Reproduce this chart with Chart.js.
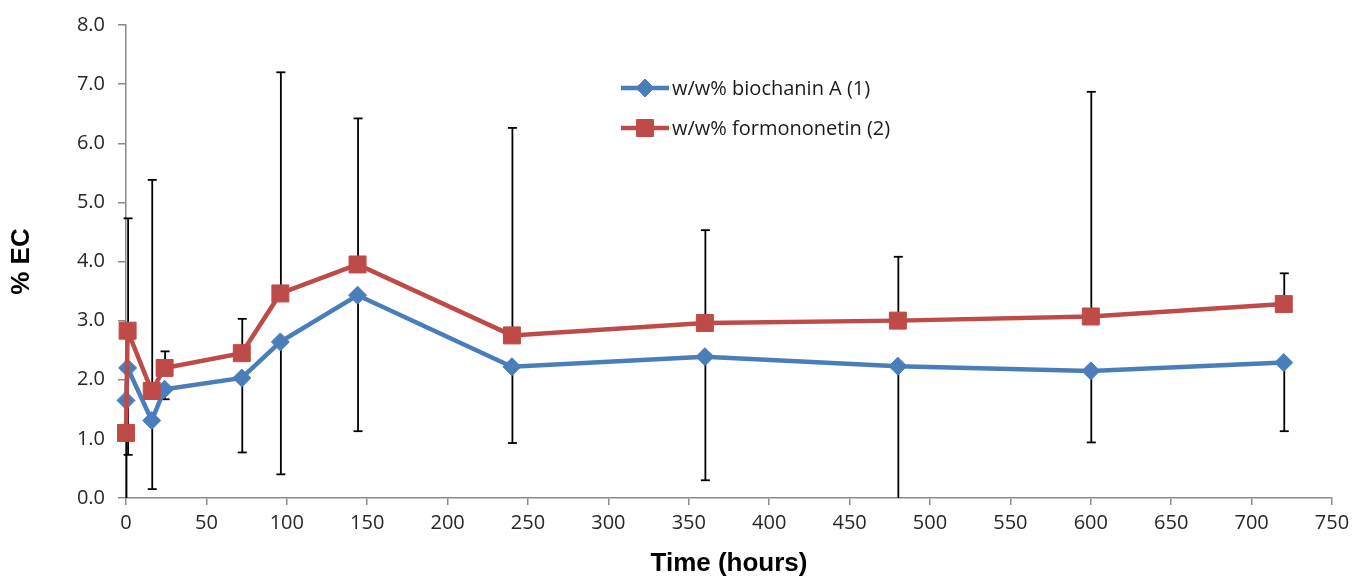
<!DOCTYPE html>
<html><head><meta charset="utf-8">
<script src="https://cdn.jsdelivr.net/npm/chart.js@4/dist/chart.umd.min.js"></script>
<style>html,body{margin:0;padding:0;background:#fff;}#wrap{width:1360px;height:582px;}</style>
</head><body><div id="wrap"><canvas id="c" width="1360" height="582"></canvas></div>
<script>
// ---- data ----
const timeHours = [0, 1, 16, 24, 72, 96, 144, 240, 360, 480, 600, 720];
const biochaninA = [1.65, 2.20, 1.31, 1.84, 2.03, 2.64, 3.43, 2.22, 2.39, 2.23, 2.15, 2.29];
const formononetin = [1.10, 2.83, 1.81, 2.20, 2.45, 3.46, 3.95, 2.75, 2.96, 3.00, 3.07, 3.28];
// upper error bars drawn from formononetin points, lower from biochanin A points
const formononetinErrUp = [null, 1.90, 3.57, 0.28, 0.58, 3.74, 2.47, 3.51, 1.57, 1.08, 3.80, 0.52];
const biochaninErrDown = [2.20, 1.47, 1.16, 0.17, 1.26, 2.24, 2.30, 1.29, 2.09, 2.53, 1.21, 1.16];
const seriesLabels = ['w/w% biochanin A (1)', 'w/w% formononetin (2)'];
const xTickStep = 50, xMin = 0, xMax = 750;
const yTickStep = 1, yMin = 0, yMax = 8;
const axisTitleX = 'Time (hours)';
const axisTitleY = '% EC';

const BLUE = '#4A7EBB', RED = '#BE4B48';
const TICK_FONT = {family: "'Open Sans', sans-serif", size: 20};
const LEGEND_FONT = {family: "'Open Sans', sans-serif", size: 20};
const TITLE_FONT = {family: "'Liberation Sans', Arial, sans-serif", size: 26, weight: 'bold'};

const errorBars = {
  id: 'errorBars',
  beforeDatasetsDraw(chart) {
    const {ctx, chartArea: a, scales: {x, y}} = chart;
    ctx.save();
    ctx.beginPath();
    ctx.rect(a.left - 10, a.top, a.right - a.left + 20, a.bottom - a.top);
    ctx.clip();
    ctx.strokeStyle = '#000';
    ctx.lineWidth = 1.8;
    const cap = 4.5;
    const bar = (xv, from, to) => {
      const px = x.getPixelForValue(xv) + 0.5;
      const p1 = y.getPixelForValue(from), p2 = y.getPixelForValue(to);
      ctx.beginPath(); ctx.moveTo(px, p1); ctx.lineTo(px, p2); ctx.stroke();
      if (to >= yMin && to <= yMax) {
        ctx.beginPath(); ctx.moveTo(px - cap, p2); ctx.lineTo(px + cap, p2); ctx.stroke();
      }
    };
    timeHours.forEach((t, i) => {
      if (formononetinErrUp[i] != null) bar(t, formononetin[i], formononetin[i] + formononetinErrUp[i]);
      if (biochaninErrDown[i] != null) bar(t, biochaninA[i], biochaninA[i] - biochaninErrDown[i]);
    });
    ctx.restore();
  }
};

const customLegend = {
  id: 'customLegend',
  afterDatasetsDraw(chart) {
    const {ctx} = chart;
    const x0 = 621, x1 = 669, ys = [88, 128];
    chart.data.datasets.forEach((ds, i) => {
      const yy = ys[i];
      ctx.save();
      ctx.strokeStyle = ds.borderColor; ctx.lineWidth = ds.borderWidth;
      ctx.beginPath(); ctx.moveTo(x0, yy); ctx.lineTo(x1, yy); ctx.stroke();
      ctx.fillStyle = ds.pointBackgroundColor; ctx.strokeStyle = ds.pointBorderColor; ctx.lineWidth = 1;
      Chart.helpers.drawPoint(ctx, {pointStyle: ds.pointStyle, radius: ds.pointRadius, borderWidth: 1, rotation: 0}, (x0 + x1) / 2, yy);
      ctx.fillStyle = '#1a1a1a';
      ctx.font = `${LEGEND_FONT.size}px ${LEGEND_FONT.family}`;
      ctx.textBaseline = 'middle'; ctx.textAlign = 'left';
      ctx.fillText(ds.label, 672, yy + 1);
      ctx.restore();
    });
  }
};

const toPts = (xs, ys) => xs.map((v, i) => ({x: v, y: ys[i]}));

new Chart(document.getElementById('c'), {
  type: 'scatter',
  data: {
    datasets: [
      {label: seriesLabels[0], data: toPts(timeHours, biochaninA), showLine: true, tension: 0, clip: false,
       borderColor: BLUE, backgroundColor: BLUE, borderWidth: 4.5,
       pointStyle: 'rectRot', pointRadius: 9, pointBackgroundColor: BLUE, pointBorderColor: BLUE, pointBorderWidth: 1, order: 2},
      {label: seriesLabels[1], data: toPts(timeHours, formononetin), showLine: true, tension: 0, clip: false,
       borderColor: RED, backgroundColor: RED, borderWidth: 4.5,
       pointStyle: 'rect', pointRadius: 12, pointBackgroundColor: RED, pointBorderColor: RED, pointBorderWidth: 1, order: 1}
    ]
  },
  options: {
    responsive: false, animation: false, devicePixelRatio: 1,
    layout: {padding: {top: 19, right: 28, left: 0, bottom: 0}},
    plugins: {legend: {display: false}, tooltip: {enabled: false}},
    scales: {
      x: {
        type: 'linear', min: xMin, max: xMax,
        ticks: {stepSize: xTickStep, color: '#262626', font: TICK_FONT, padding: 6, maxRotation: 0},
        grid: {drawOnChartArea: false, drawTicks: true, tickLength: 7, color: '#8a8a8a', lineWidth: 1.5},
        border: {color: '#8a8a8a', width: 1.5},
        title: {display: true, text: axisTitleX, font: TITLE_FONT, color: '#000', padding: {top: 0, bottom: 3}},
        afterFit(s) { s.height = 84; }
      },
      y: {
        type: 'linear', min: yMin, max: yMax,
        ticks: {stepSize: yTickStep, color: '#262626', font: TICK_FONT, padding: 13, callback: v => Number(v).toFixed(1)},
        grid: {drawOnChartArea: false, drawTicks: true, tickLength: 8, color: '#8a8a8a', lineWidth: 1.5},
        border: {color: '#8a8a8a', width: 1.5},
        title: {display: true, text: axisTitleY, font: TITLE_FONT, color: '#000', padding: {top: 6, bottom: 0}},
        afterFit(s) { s.width = 126; }
      }
    }
  },
  plugins: [errorBars, customLegend]
});
</script></body></html>
